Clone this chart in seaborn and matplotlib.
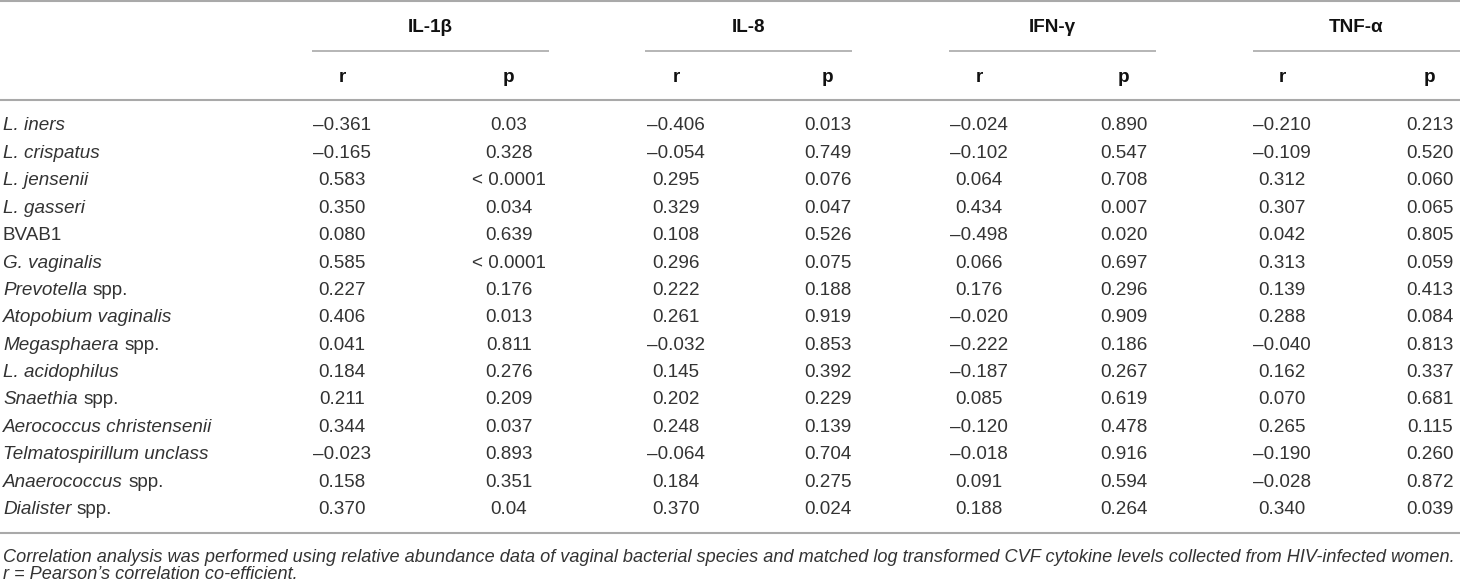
import numpy as np
import pandas as pd
import matplotlib
matplotlib.use("Agg")
import matplotlib.pyplot as plt
import seaborn as sns

# Table content: species (italic part + plain part) and r / p per cytokine
species_italic = ["L. iners", "L. crispatus", "L. jensenii", "L. gasseri", "",
                  "G. vaginalis", "Prevotella", "Atopobium vaginalis", "Megasphaera",
                  "L. acidophilus", "Snaethia", "Aerococcus christensenii",
                  "Telmatospirillum unclass", "Anaerococcus", "Dialister"]
species_plain = ["", "", "", "", "BVAB1", "", "spp.", "", "spp.", "", "spp.", "",
                 "", "spp.", "spp."]

cytokines = ["IL-1β", "IL-8", "IFN-γ", "TNF-α"]

il1b_r = [-0.361, -0.165, 0.583, 0.350, 0.080, 0.585, 0.227, 0.406, 0.041, 0.184,
          0.211, 0.344, -0.023, 0.158, 0.370]
il1b_p = ["0.03", "0.328", "< 0.0001", "0.034", "0.639", "< 0.0001", "0.176", "0.013",
          "0.811", "0.276", "0.209", "0.037", "0.893", "0.351", "0.04"]
il8_r = [-0.406, -0.054, 0.295, 0.329, 0.108, 0.296, 0.222, 0.261, -0.032, 0.145,
         0.202, 0.248, -0.064, 0.184, 0.370]
il8_p = ["0.013", "0.749", "0.076", "0.047", "0.526", "0.075", "0.188", "0.919",
         "0.853", "0.392", "0.229", "0.139", "0.704", "0.275", "0.024"]
ifng_r = [-0.024, -0.102, 0.064, 0.434, -0.498, 0.066, 0.176, -0.020, -0.222, -0.187,
          0.085, -0.120, -0.018, 0.091, 0.188]
ifng_p = ["0.890", "0.547", "0.708", "0.007", "0.020", "0.697", "0.296", "0.909",
          "0.186", "0.267", "0.619", "0.478", "0.916", "0.594", "0.264"]
tnfa_r = [-0.210, -0.109, 0.312, 0.307, 0.042, 0.313, 0.139, 0.288, -0.040, 0.162,
          0.070, 0.265, -0.190, -0.028, 0.340]
tnfa_p = ["0.213", "0.520", "0.060", "0.065", "0.805", "0.059", "0.413", "0.084",
          "0.813", "0.337", "0.681", "0.115", "0.260", "0.872", "0.039"]

footnote = ("Correlation analysis was performed using relative abundance data of vaginal "
            "bacterial species and matched log transformed CVF cytokine levels collected "
            "from HIV-infected women.\nr = Pearson\u2019s correlation co-efficient.")

# Layout (pixel space of a 1460x587 canvas)
W, H = 1460, 587
R_X = [342, 676, 979, 1282]
P_X = [509, 828, 1124, 1430]
SPANS = [(312, 549), (645, 852), (949, 1156), (1253, 1460)]
ROW0, ROW_STEP = 126, 27.4
RULE = "#a9a9a9"
TXT = "#333333"
FS = 13.6


def fmt_r(v):
    return f"{v:.3f}".replace("-", "\u2013")


def main():
    sns.set_theme(style="white")
    plt.rcParams["font.family"] = ["Liberation Sans", "DejaVu Sans"]

    fig = plt.figure(figsize=(W / 100, H / 100), dpi=100)
    ax = fig.add_axes([0, 0, 1, 1])
    ax.set_xlim(0, W)
    ax.set_ylim(H, 0)
    ax.axis("off")

    table = pd.DataFrame({
        "r": [il1b_r, il8_r, ifng_r, tnfa_r],
        "p": [il1b_p, il8_p, ifng_p, tnfa_p],
    }, index=cytokines)

    # rules
    ax.hlines([1, 100, 533], 0, W, color=RULE, lw=1.5)
    for x0, x1 in SPANS:
        ax.hlines(50.5, x0, x1, color=RULE, lw=1.2)

    # headers
    for j, name in enumerate(cytokines):
        x0, x1 = SPANS[j]
        ax.text((x0 + x1) / 2, 27, name, ha="center", va="center",
                fontsize=FS, fontweight="bold", color="#111111")
        ax.text(R_X[j], 77, "r", ha="center", va="center",
                fontsize=FS, fontweight="bold", color="#111111")
        ax.text(P_X[j], 77, "p", ha="center", va="center",
                fontsize=FS, fontweight="bold", color="#111111")

    # body rows
    for i, (it, pl) in enumerate(zip(species_italic, species_plain)):
        y = ROW0 + i * ROW_STEP
        if it:
            t = ax.text(3, y, it, ha="left", va="center", fontsize=FS,
                        style="italic", color=TXT)
            if pl:
                ax.annotate(pl, xy=(1, 0.5), xycoords=t, xytext=(4, 0),
                            textcoords="offset points", ha="left", va="center",
                            fontsize=FS, color=TXT)
        else:
            ax.text(3, y, pl, ha="left", va="center", fontsize=FS, color=TXT)

        for j, name in enumerate(cytokines):
            ax.text(R_X[j], y, fmt_r(table.loc[name, "r"][i]), ha="center",
                    va="center", fontsize=FS, color=TXT)
            ax.text(P_X[j], y, table.loc[name, "p"][i], ha="center",
                    va="center", fontsize=FS, color=TXT)

    ax.text(3, 549, footnote, ha="left", va="top", fontsize=13.1, style="italic",
            color=TXT, linespacing=1.0)

    fig.savefig("out.png", dpi=100)


if __name__ == "__main__":
    main()
